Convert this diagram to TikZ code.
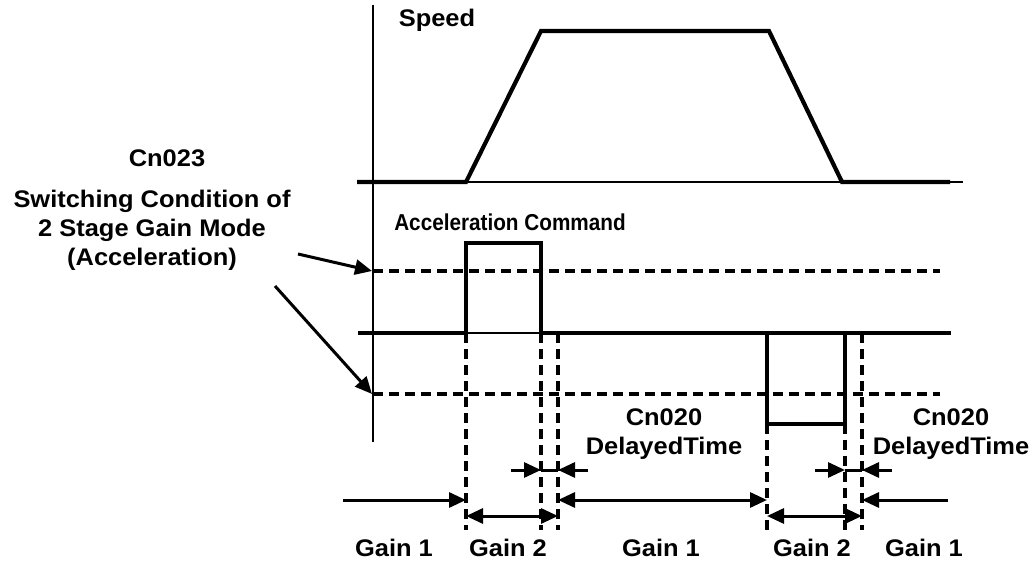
\documentclass[tikz,border=0pt]{standalone}
\usepackage{fontspec}
\setmainfont{Liberation Sans}[FakeStretch=1.06]
\usetikzlibrary{arrows.meta}
\begin{document}
\begin{tikzpicture}[x=1pt,y=-1pt,
 thinln/.style={line width=2.4pt},
 boldln/.style={line width=4.2pt, line join=miter},
 dashln/.style={line width=3.1pt, dash pattern=on 10pt off 6pt},
 tip/.tip={Triangle[length=17pt,width=15pt]},
 arr/.style={line width=3pt, -tip},
 darr/.style={line width=3pt, tip-tip},
 lbl/.style={font=\fontsize{24}{29}\selectfont\bfseries, inner sep=0pt, align=center}]
\useasboundingbox (0,0) rectangle (1031,564);

% axis
\draw[thinln] (373,5) -- (373,442);

% speed
\draw[thinln] (357,182) -- (963,182);
\draw[boldln] (357,182) -- (466,182) -- (541,31) -- (769,31) -- (842,182) -- (950,182);

% acceleration command
\draw[thinln] (358,333) -- (951,333);
\draw[boldln] (358,333) -- (466,333) -- (466,243) -- (541,243) -- (541,333) -- (951,333);
\draw[boldln] (767,333) -- (767,424) -- (845,424) -- (845,333);

% threshold dashed lines
\draw[dashln] (373,271) -- (940,271);
\draw[dashln] (373,394) -- (940,394);

% vertical dashed lines
\foreach \x in {466,541,558,862} \draw[dashln] (\x,333) -- (\x,530);
\foreach \x in {767,845} \draw[dashln] (\x,424) -- (\x,530);

% labels
\node[lbl] (speed) at (437,20) {Speed};
\node[lbl, font=\fontsize{23}{28}\selectfont\bfseries] (acc) at (510,222) {\scalebox{0.85}[1]{Acceleration Command}};
\node[lbl] (cn023) at (167,158) {Cn023};
\node[lbl] (sw) at (152,230) {Switching Condition of\\2 Stage Gain Mode\\(Acceleration)};
\node[lbl] (dl1) at (664,434) {Cn020\\DelayedTime};
\node[lbl] (dl2) at (951,434) {Cn020\\DelayedTime};

% pointer arrows
\coordinate (p1s) at (298,254);
\coordinate (p1e) at (372,271);
\coordinate (p2s) at (275,286);
\coordinate (p2e) at (372,394);
\draw[arr] (p1s) -- (p1e);
\draw[arr] (p2s) -- (p2e);

% delay arrows
\coordinate (s1) at (511,470); \coordinate (s1e) at (541,470);
\coordinate (s2) at (588,470); \coordinate (s2e) at (558,470);
\draw[arr] (s1) -- (s1e);
\draw[line width=3pt] (s1e) -- (s2e);
\draw[arr] (s2) -- (s2e);
\coordinate (s3) at (815,470); \coordinate (s3e) at (845,470);
\coordinate (s4) at (892,470); \coordinate (s4e) at (862,470);
\draw[arr] (s3) -- (s3e);
\draw[line width=3pt] (s3e) -- (s4e);
\draw[arr] (s4) -- (s4e);

% gain interval arrows
\coordinate (g0) at (343,500); \coordinate (g1) at (466,500);
\draw[arr] (g0) -- (g1);
\coordinate (g2) at (466,516); \coordinate (g3) at (558,516);
\draw[darr] (g2) -- (g3);
\coordinate (g4) at (558,500); \coordinate (g5) at (767,500);
\draw[darr] (g4) -- (g5);
\coordinate (g6) at (767,516); \coordinate (g7) at (862,516);
\draw[darr] (g6) -- (g7);
\coordinate (g8) at (948,500); \coordinate (g9) at (862,500);
\draw[arr] (g8) -- (g9);

% gain labels
\node[lbl] (l1) at (394,548) {Gain 1};
\node[lbl] (l2) at (508,548) {Gain 2};
\node[lbl] (l3) at (661,548) {Gain 1};
\node[lbl] (l4) at (812,548) {Gain 2};
\node[lbl] (l5) at (924,548) {Gain 1};
\end{tikzpicture}
\end{document}
